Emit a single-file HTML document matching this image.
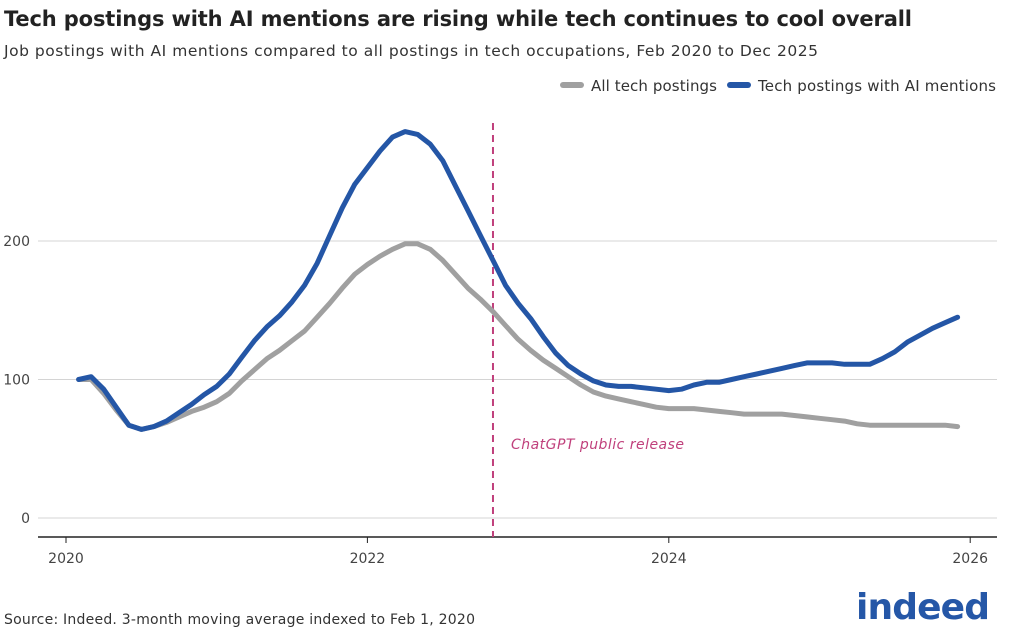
<!DOCTYPE html>
<html><head><meta charset="utf-8"><style>
body{margin:0;background:#fff;font-family:"DejaVu Sans",sans-serif;}
svg text{font-family:"DejaVu Sans","Liberation Sans",sans-serif;}
</style></head><body>
<svg width="1024" height="640" id="c">
<text x="4" y="26" font-size="21" font-weight="bold" fill="#222" textLength="908">Tech postings with AI mentions are rising while tech continues to cool overall</text>
<text x="4" y="56" font-size="15.5" fill="#333" textLength="814">Job postings with AI mentions compared to all postings in tech occupations, Feb 2020 to Dec 2025</text>
<g>
<line x1="563" y1="85" x2="581" y2="85" stroke="#a0a0a0" stroke-width="6" stroke-linecap="round"/>
<text x="591" y="91" font-size="15" fill="#333" textLength="126">All tech postings</text>
<line x1="730" y1="85" x2="748" y2="85" stroke="#2456a6" stroke-width="6" stroke-linecap="round"/>
<text x="758" y="91" font-size="15" fill="#333" textLength="238">Tech postings with AI mentions</text>
</g>
<g id="grid"></g><g id="marks"></g>
<text x="511" y="449" font-size="14" font-style="italic" fill="#c0407c" textLength="173">ChatGPT public release</text>
<text x="4" y="624" font-size="14" fill="#333" textLength="471">Source: Indeed. 3-month moving average indexed to Feb 1, 2020</text>
<text x="856" y="619" font-size="36" font-weight="bold" fill="#2557a7" textLength="134">indeed</text>
</svg>
<script>
const yTicks=[0,100,200];
const xTickYears=[2020,2022,2024,2026];
const startYear=2020+1/12;
const releaseYear=2022+10/12;
const allTech=[100,100,90,78,67,64,66,69,73,77,80,84,90,99,107,115,121,128,135,145,155,166,176,183,189,194,198,198,194,186,176,166,158,149,139,129,121,114,108,102,96,91,88,86,84,82,80,79,79,79,78,77,76,75,75,75,75,74,73,72,71,70,68,67,67,67,67,67,67,67,66];
const aiTech=[100,102,93,80,67,64,66,70,76,82,89,95,104,116,128,138,146,156,168,184,204,224,241,253,265,275,279,277,270,258,240,222,204,186,168,155,144,131,119,110,104,99,96,95,95,94,93,92,93,96,98,98,100,102,104,106,108,110,112,112,112,111,111,111,115,120,127,132,137,141,145];
const NS="http://www.w3.org/2000/svg";
const X=yr=>66+(yr-2020)*150.7;
const Y=v=>518-v*1.385;
const grid=document.getElementById('grid'),marks=document.getElementById('marks');
function mk(p,tag,a){const e=document.createElementNS(NS,tag);for(const k in a)e.setAttribute(k,a[k]);p.appendChild(e);return e;}
yTicks.forEach(t=>{
 const l=mk(grid,'line',{x1:38,x2:997,y1:Y(t),y2:Y(t),stroke:'#d4d4d4','stroke-width':1});
 
 
 const tx=mk(grid,'text',{x:30,y:Y(t)+5,'font-size':14,fill:'#444','text-anchor':'end'});tx.textContent=t;
 
 
});
const ax=mk(grid,'line',{x1:38,x2:997,y1:537,y2:537,stroke:'#222','stroke-width':1.5});


xTickYears.forEach(yv=>{
 const t=mk(grid,'line',{x1:X(yv),x2:X(yv),y1:537,y2:543,stroke:'#222'});
 
 
 const tx=mk(grid,'text',{x:X(yv),y:563,'font-size':14,fill:'#444','text-anchor':'middle'});tx.textContent=yv;
 
 
});
const rl=mk(marks,'line',{x1:X(releaseYear),x2:X(releaseYear),y1:123,y2:537,stroke:'#c0407c','stroke-width':2,'stroke-dasharray':'7,5'});


function series(d,c,n){
 const pts=d.map((v,i)=>X(startYear+i/12).toFixed(1)+','+Y(v).toFixed(1)).join(' ');
 const p=mk(marks,'polyline',{points:pts,fill:'none',stroke:c,'stroke-width':5,'stroke-linejoin':'round','stroke-linecap':'round'});
 
 
}
series(allTech,'#a0a0a0','line-all-tech');
series(aiTech,'#2456a6','line-ai-tech');
</script>
</body></html>
